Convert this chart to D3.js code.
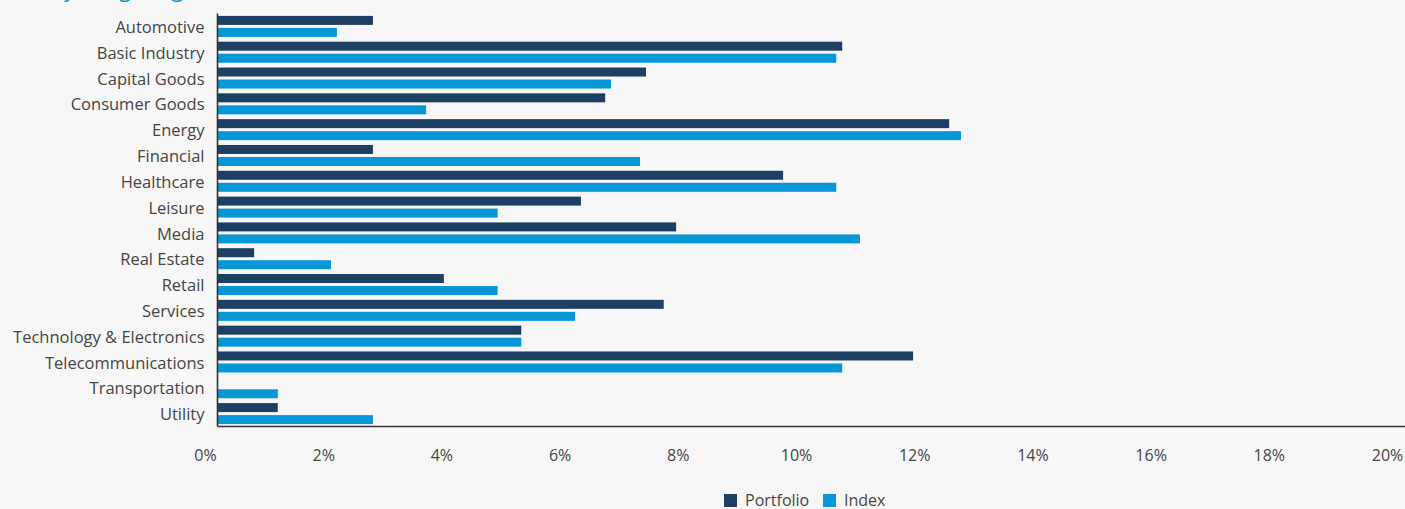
<!DOCTYPE html>
<html>
<head>
<meta charset="utf-8">
<script src="https://cdn.jsdelivr.net/npm/d3@7"></script>
<style>
  html, body { margin: 0; padding: 0; background: #f7f7f7; }
  svg { display: block; }
  text { font-family: "Open Sans", "Noto Sans", sans-serif; }
</style>
</head>
<body>
<svg id="chart" width="1405" height="509"></svg>
<script>
// Industry weightings, % of market value
const categories = [
  "Automotive", "Basic Industry", "Capital Goods", "Consumer Goods", "Energy",
  "Financial", "Healthcare", "Leisure", "Media", "Real Estate", "Retail",
  "Services", "Technology & Electronics", "Telecommunications",
  "Transportation", "Utility"
];
const portfolio = [2.63, 10.57, 7.25, 6.56, 12.38, 2.63, 9.57, 6.15, 7.76, 0.62, 3.83, 7.55, 5.14, 11.77, 0.0, 1.02];
const index     = [2.02, 10.47, 6.66, 3.53, 12.58, 7.15, 10.47, 4.74, 10.87, 1.92, 4.74, 6.05, 5.14, 10.57, 1.02, 2.63];
const seriesNames = ["Portfolio", "Index"];
const xTicks = [0, 2, 4, 6, 8, 10, 12, 14, 16, 18, 20];
const titleText = "Industry Weightings vs. Index, %";

const colors = { Portfolio: "#1d3f63", Index: "#0796d6" };
const FONT = "'Open Sans', 'Noto Sans', sans-serif";
const TEXT_COLOR = "#454545";

const svg = d3.select("#chart");

const x = d3.scaleLinear().domain([0, 20]).range([217.5, 1399.5]);
const y = d3.scaleBand().domain(categories).range([13.5, 426.5])
  .paddingInner(0.186).paddingOuter(0.093);
const ySub = d3.scaleBand().domain(seriesNames).range([0, y.bandwidth()])
  .paddingInner(0.25).paddingOuter(0);

// Title, running off the top edge
const title = svg.append("text")
  .attr("y", -3)
  .attr("fill", "#0796d6")
  .attr("font-size", 22)
  .text(titleText);
const gAt = titleText.indexOf("g");
const lead = title.node().getSubStringLength(0, gAt);
title.attr("x", 119 - lead);

const rows = categories.map((c, i) => ({
  category: c,
  values: [
    { series: "Portfolio", value: portfolio[i] },
    { series: "Index", value: index[i] }
  ]
}));

const groups = svg.append("g").selectAll("g")
  .data(rows).join("g")
  .attr("transform", d => `translate(0,${y(d.category)})`);

groups.selectAll("rect")
  .data(d => d.values).join("rect")
  .attr("x", x(0))
  .attr("y", d => ySub(d.series))
  .attr("width", d => Math.max(0, x(d.value) - x(0)))
  .attr("height", ySub.bandwidth())
  .attr("fill", d => colors[d.series]);

// Category axis
const yAxis = svg.append("g")
  .attr("transform", `translate(${x(0)},0)`)
  .call(d3.axisLeft(y).tickSize(0).tickPadding(13));
yAxis.select(".domain").attr("stroke", "#333").attr("stroke-width", 1.6)
  .attr("d", `M0,${y.range()[0]}V${y.range()[1]}`);
yAxis.selectAll("text")
  .attr("font-family", FONT)
  .attr("font-size", 16.5).attr("fill", TEXT_COLOR)
  .attr("dy", "0.4em");

// Value axis
const xAxis = svg.append("g")
  .attr("transform", `translate(0,${y.range()[1]})`)
  .call(d3.axisBottom(x).tickValues(xTicks).tickFormat(d => d + "%").tickSize(0).tickPadding(23));
xAxis.select(".domain").attr("stroke", "#333").attr("stroke-width", 1.6)
  .attr("d", `M${x(0)},0H1405`);
xAxis.selectAll("text")
  .attr("font-family", FONT)
  .attr("font-size", 16).attr("fill", TEXT_COLOR)
  .attr("dx", -12.5);

// Legend
const legend = svg.append("g").attr("transform", "translate(724,494)");
const items = [
  { name: "Portfolio", dx: 0 },
  { name: "Index", dx: 99 }
];
const li = legend.selectAll("g").data(items).join("g")
  .attr("transform", d => `translate(${d.dx},0)`);
li.append("rect").attr("width", 13).attr("height", 13)
  .attr("fill", d => colors[d.name]);
li.append("text").attr("x", 21).attr("y", 12)
  .attr("font-size", 16).attr("fill", TEXT_COLOR)
  .text(d => d.name);
</script>
</body>
</html>
